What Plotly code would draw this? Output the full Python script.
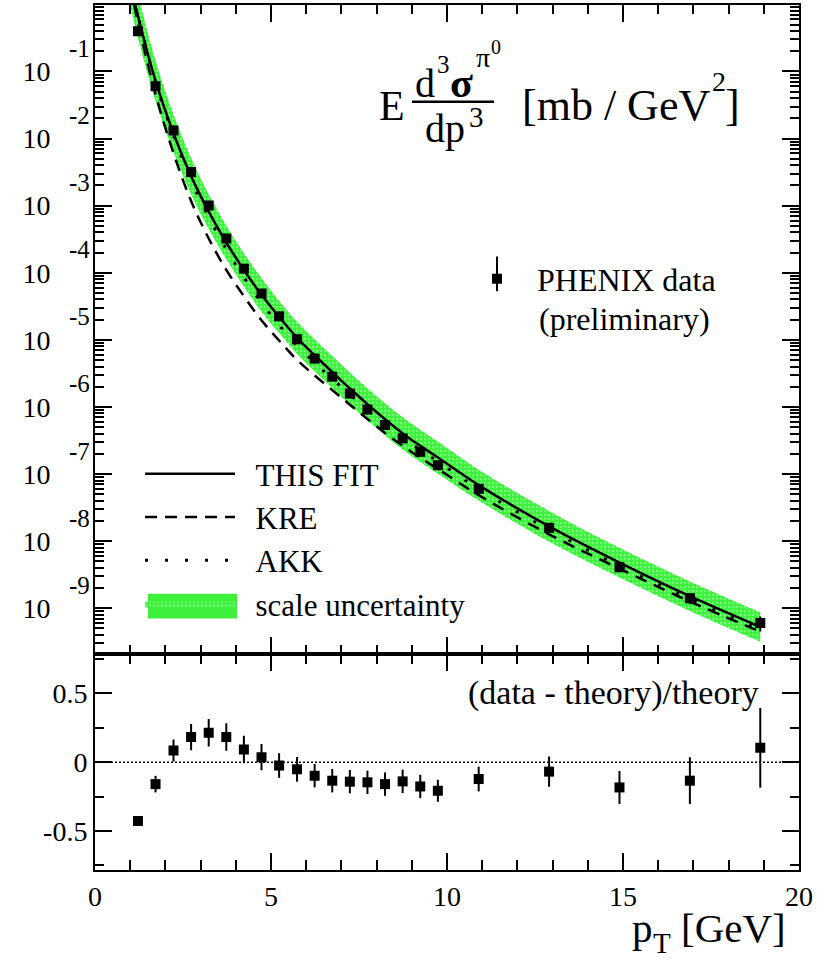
import plotly.graph_objects as go

# ---------------- data ----------------
pt_data = [1.22, 1.72, 2.23, 2.73, 3.23, 3.73, 4.23, 4.73, 5.23, 5.74, 6.24, 6.74,
           7.24, 7.74, 8.24, 8.74, 9.24, 9.74, 10.9, 12.9, 14.9, 16.9, 18.9]
sigma_data = [3.98e-1, 6.03e-2, 1.32e-2, 3.16e-3, 1.00e-3, 3.24e-4, 1.15e-4, 4.90e-5,
              2.24e-5, 1.02e-5, 5.25e-6, 2.82e-6, 1.58e-6, 9.12e-7, 5.37e-7, 3.39e-7,
              2.14e-7, 1.35e-7, 6.03e-8, 1.58e-8, 4.07e-9, 1.41e-9, 6.03e-10]
ratio = [-0.427, -0.159, 0.085, 0.183, 0.215, 0.183, 0.093, 0.037, -0.024, -0.051,
         -0.098, -0.134, -0.141, -0.146, -0.159, -0.139, -0.176, -0.207, -0.122,
         -0.068, -0.183, -0.134, 0.105]
ratio_err = [0.02, 0.06, 0.08, 0.095, 0.10, 0.10, 0.10, 0.095, 0.09, 0.09, 0.085, 0.085,
             0.085, 0.085, 0.085, 0.085, 0.085, 0.08, 0.09, 0.11, 0.12, 0.17, 0.29]

pt_theory = [1.0, 1.22, 1.72, 2.23, 2.73, 3.23, 3.73, 4.23, 4.73, 5.23, 5.74, 6.24, 6.74,
             7.24, 7.74, 8.24, 8.74, 9.24, 9.74, 10.9, 12.9, 14.9, 16.9, 18.9]
this_fit = [2.14, 6.76e-1, 7.24e-2, 1.20e-2, 2.75e-3, 8.13e-4, 2.82e-4, 1.10e-4, 4.68e-5,
            2.19e-5, 1.07e-5, 5.89e-6, 3.31e-6, 1.88e-6, 1.10e-6, 6.53e-7, 4.03e-7,
            2.63e-7, 1.76e-7, 6.84e-8, 1.66e-8, 4.79e-9, 1.51e-9, 5.25e-10]
kre = [1.91, 5.37e-1, 4.57e-2, 6.03e-3, 1.175e-3, 3.24e-4, 1.10e-4, 4.47e-5, 1.95e-5,
       9.77e-6, 5.01e-6, 2.95e-6, 1.78e-6, 1.08e-6, 6.61e-7, 4.07e-7, 2.63e-7, 1.74e-7,
       1.19e-7, 4.84e-8, 1.26e-8, 3.89e-9, 1.26e-9, 4.47e-10]
akk = [2.14, 6.76e-1, 6.92e-2, 1.096e-2, 2.40e-3, 6.76e-4, 2.24e-4, 8.51e-5, 3.55e-5,
       1.66e-5, 8.13e-6, 4.57e-6, 2.63e-6, 1.53e-6, 9.12e-7, 5.56e-7, 3.47e-7, 2.29e-7,
       1.53e-7, 5.96e-8, 1.48e-8, 4.27e-9, 1.38e-9, 4.79e-10]
band_hi = [4.79, 1.445, 1.445e-1, 2.29e-2, 5.13e-3, 1.48e-3, 5.01e-4, 1.95e-4, 8.32e-5,
           3.80e-5, 1.86e-5, 1.02e-5, 5.75e-6, 3.27e-6, 1.905e-6, 1.135e-6, 7.00e-7,
           4.57e-7, 3.05e-7, 1.16e-7, 2.82e-8, 7.94e-9, 2.51e-9, 8.71e-10]
band_lo = [0.955, 3.16e-1, 3.63e-2, 6.31e-3, 1.48e-3, 4.47e-4, 1.585e-4, 6.17e-5, 2.63e-5,
           1.26e-5, 6.17e-6, 3.39e-6, 1.905e-6, 1.08e-6, 6.31e-7, 3.76e-7, 2.32e-7,
           1.51e-7, 1.01e-7, 4.03e-8, 9.77e-9, 2.88e-9, 9.12e-10, 3.16e-10]

y_decades = [-9, -8, -7, -6, -5, -4, -3, -2, -1]
ytick_vals = [10.0 ** d for d in y_decades]
ytick_text = ["10"] * len(y_decades)
ytick_exp = ["-9", "-8", "-7", "-6", "-5", "-4", "-3", "-2", "-1"]
ratio_tick_vals = [-0.5, 0, 0.5]
ratio_tick_text = ["-0.5", "0", "0.5"]
x_tick_vals = [0, 5, 10, 15, 20]
x_tick_text = ["0", "5", "10", "15", "20"]

# data error in the top panel (same absolute error as in the ratio, times theory)
sigma_err = [e * t for e, t in zip(ratio_err, this_fit[1:])]

# ---------------- layout helpers ----------------
FONT = "Liberation Serif, Times New Roman, DejaVu Serif, serif"
L, R, T, B = 95, 799, 3, 870


def px(x):
    return (x - L) / (R - L)


def py(y):
    return (B - y) / (B - T)


split = py(654)
NB = "\u00a0\u00a0"

fig = go.Figure()

# scale-uncertainty band
fig.add_trace(go.Scatter(x=pt_theory, y=band_lo, mode="lines", line=dict(width=0, shape="spline"),
                         showlegend=False, hoverinfo="skip", xaxis="x", yaxis="y"))
fig.add_trace(go.Scatter(x=pt_theory, y=band_hi, mode="lines", line=dict(width=0, shape="spline"),
                         fill="tonexty", fillcolor="#3cf03c",
                         fillpattern=dict(shape=".", fgcolor="#b8ffb8", bgcolor="#3cf03c",
                                          size=4, solidity=0.35),
                         name=NB + "scale uncertainty", legendrank=4, legend="legend",
                         xaxis="x", yaxis="y"))
fig.add_trace(go.Scatter(x=pt_theory, y=kre, mode="lines",
                         line=dict(color="black", width=2.5, dash="12px,8px", shape="spline"),
                         name=NB + "KRE", legendrank=2, xaxis="x", yaxis="y"))
fig.add_trace(go.Scatter(x=pt_theory, y=akk, mode="lines",
                         line=dict(color="black", width=3, dash="3px,17px", shape="spline"),
                         name=NB + "AKK", legendrank=3, xaxis="x", yaxis="y"))
fig.add_trace(go.Scatter(x=pt_theory, y=this_fit, mode="lines",
                         line=dict(color="black", width=2.5, shape="spline"),
                         name=NB + "THIS FIT", legendrank=1, xaxis="x", yaxis="y"))
fig.add_trace(go.Scatter(x=pt_data, y=sigma_data, mode="markers",
                         marker=dict(symbol="square", size=10, color="black"),
                         error_y=dict(type="data", array=sigma_err, color="black",
                                      thickness=2, width=0),
                         name="PHENIX data", legend="legend2",
                         xaxis="x", yaxis="y"))
# ratio panel
fig.add_trace(go.Scatter(x=pt_data, y=ratio, mode="markers",
                         marker=dict(symbol="square", size=10, color="black"),
                         error_y=dict(type="data", array=ratio_err, color="black",
                                      thickness=2, width=0),
                         showlegend=False, xaxis="x2", yaxis="y2"))

axis_common = dict(showline=True, linecolor="black", linewidth=2, mirror="ticks",
                   ticks="inside", tickcolor="black", tickwidth=2, showgrid=False,
                   zeroline=False, tickfont=dict(family=FONT, size=28, color="black"))

fig.update_layout(
    width=817, height=960,
    margin=dict(l=L, r=817 - R, t=T, b=960 - B),
    paper_bgcolor="white", plot_bgcolor="white",
    font=dict(family=FONT, color="black"),
    xaxis=dict(domain=[0, 1], anchor="y", range=[0, 20], tickvals=x_tick_vals,
               showticklabels=False, ticklen=17,
               minor=dict(dtick=1, ticklen=9, tickwidth=1.5, ticks="inside", tickcolor="black"),
               **axis_common),
    yaxis=dict(domain=[split, 1], anchor="x", type="log", range=[-9.69, -0.01],
               tickmode="array", tickvals=ytick_vals, ticktext=ytick_text, ticklen=17,
               ticklabelstandoff=37,
               minor=dict(tickmode="array",
                          tickvals=[k * 10.0 ** n for n in range(-10, 1) for k in range(2, 10)],
                          ticklen=9, tickwidth=1.5, ticks="inside", tickcolor="black"),
               **axis_common),
    xaxis2=dict(domain=[0, 1], anchor="y2", range=[0, 20], tickvals=x_tick_vals,
                ticktext=x_tick_text, ticklen=17,
                minor=dict(dtick=1, ticklen=10, tickwidth=1.5, ticks="inside", tickcolor="black"),
                **axis_common),
    yaxis2=dict(domain=[0, split], anchor="x2", range=[-0.783, 0.783],
                tickvals=ratio_tick_vals, ticktext=ratio_tick_text, ticklen=17,
                minor=dict(tickmode="array", tickvals=[-0.75, -0.25, 0.25, 0.75],
                           ticklen=9, tickwidth=1.5, ticks="inside", tickcolor="black"),
                **axis_common),
    legend=dict(x=px(140), y=py(446), xanchor="left", yanchor="top", traceorder="normal",
                bgcolor="rgba(0,0,0,0)", itemwidth=90,
                font=dict(family=FONT, size=31, color="black")),
    legend2=dict(x=px(457), y=py(250), xanchor="left", yanchor="top", valign="top",
                 bgcolor="rgba(0,0,0,0)", itemwidth=70,
                 font=dict(family=FONT, size=32, color="black")),
    showlegend=True,
)

# zero line in ratio panel
fig.add_shape(type="line", xref="x2 domain", yref="y2", x0=0, x1=1, y0=0, y1=0,
              line=dict(color="black", width=1.5, dash="2px,2px"))

# exponents of the log-axis labels
for d, e in zip(y_decades, ytick_exp):
    fig.add_annotation(xref="paper", yref="y", x=px(67), y=d, yshift=23, text=e,
                       xanchor="left", yanchor="middle", showarrow=False,
                       font=dict(family=FONT, color="black", size=25))

# plain text pieces: (text, left x px, centre y px, size)
pieces = [
    ("E", 377, 104, 42),
    ("d", 413, 82, 40),
    ("3", 435, 63, 25),
    ("<b>σ</b>", 448, 81, 42),
    ("π", 474, 56, 28),
    ("0", 489, 45, 20),
    ("dp", 423, 127, 40),
    ("3", 467, 115, 29),
    ("[mb / GeV", 520, 104, 44),
    ("2", 710, 80, 28),
    ("]", 723, 104, 44),
    ("(data - theory)/theory", 466, 693, 34),
    ("(preliminary)", 537, 318, 32),
    ("p", 630, 928, 41),
    ("T", 651, 943, 29),
    ("[GeV]", 679, 928, 41),
]
for text, xl, yc, size in pieces:
    fig.add_annotation(xref="paper", yref="paper", x=px(xl), y=py(yc), text=text,
                       xanchor="left", yanchor="middle", showarrow=False,
                       font=dict(family=FONT, color="black", size=size))

fig.add_shape(type="line", xref="paper", yref="paper", x0=px(412), x1=px(494),
              y0=py(100), y1=py(100), line=dict(color="black", width=2.5))
# error-bar stroke of the PHENIX legend symbol
fig.add_shape(type="line", xref="paper", yref="paper", x0=px(497), x1=px(497),
              y0=py(255), y1=py(290), line=dict(color="black", width=2))
# taller swatch behind the scale-uncertainty legend symbol
fig.add_shape(type="rect", xref="paper", yref="paper", x0=px(148), x1=px(237),
              y0=py(618), y1=py(593), line=dict(width=0), fillcolor="#3cf03c", layer="above")

fig.write_html("out.html")
